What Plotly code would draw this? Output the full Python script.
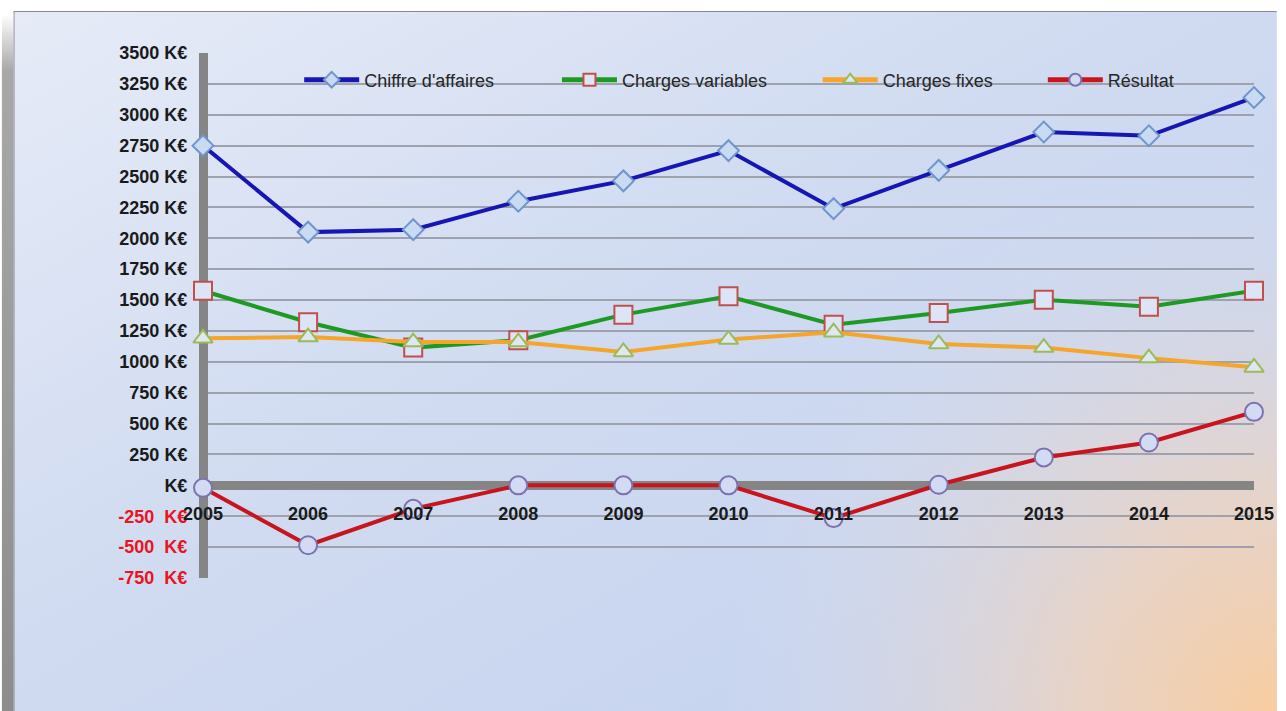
import base64
import plotly.graph_objects as go

years = [2005, 2006, 2007, 2008, 2009, 2010, 2011, 2012, 2013, 2014, 2015]
chiffre_affaires = [2750, 2050, 2070, 2300, 2465, 2710, 2240, 2550, 2860, 2830, 3140]
charges_variables = [1575, 1320, 1115, 1175, 1382, 1530, 1300, 1395, 1503, 1445, 1576]
charges_fixes = [1190, 1200, 1160, 1160, 1080, 1180, 1240, 1145, 1115, 1030, 955]
resultat = [-20, -485, -190, 0, 0, 0, -265, 5, 226, 347, 595]

series_names = ["Chiffre d'affaires", "Charges variables", "Charges fixes", "Résultat"]
y_ticks = list(range(-750, 3501, 250))


def tick_label(v):
    if v == 0:
        return "K€"
    if v < 0:
        return "<span style='color:#e8141e'>%d\u00a0\u00a0K€</span>" % v
    return "%d K€" % v


W, H = 1286, 711
L, R, T, B = 203, 23, 53, 133
PW, PH = W - L - R, H - T - B
AXW = 9

svg = f"""<svg xmlns='http://www.w3.org/2000/svg' width='{W}' height='{H}' viewBox='0 0 {W} {H}' preserveAspectRatio='none'>
<defs>
<linearGradient id='bg' x1='0' y1='0' x2='1' y2='1'>
<stop offset='0' stop-color='#e6ebf7'/>
<stop offset='0.45' stop-color='#d0dbf1'/>
<stop offset='1' stop-color='#c3d1ee'/>
</linearGradient>
<radialGradient id='or' gradientUnits='userSpaceOnUse' cx='{W}' cy='{H}' r='560'>
<stop offset='0' stop-color='#f8cda0' stop-opacity='1'/>
<stop offset='0.35' stop-color='#eed3bf' stop-opacity='0.85'/>
<stop offset='1' stop-color='#d6dcef' stop-opacity='0'/>
</radialGradient>
<linearGradient id='sh' x1='0' y1='0' x2='0' y2='1'>
<stop offset='0' stop-color='#ffffff'/>
<stop offset='0.08' stop-color='#a8a8a8'/>
<stop offset='1' stop-color='#8c8c8c'/>
</linearGradient>
</defs>
<rect x='0' y='0' width='{W}' height='{H}' fill='#ffffff'/>
<rect x='0' y='14' width='13' height='{H}' fill='url(#sh)'/>
<rect x='12' y='11' width='{W}' height='{H}' fill='url(#bg)'/>
<rect x='12' y='11' width='{W}' height='{H}' fill='url(#or)'/>
<line x1='12' y1='11.5' x2='{W}' y2='11.5' stroke='#8a8a8a' stroke-width='1.2'/>
<line x1='12.5' y1='11' x2='12.5' y2='{H}' stroke='#9a9a9a' stroke-width='1'/>
</svg>"""
img_src = "data:image/svg+xml;base64," + base64.b64encode(svg.encode("utf-8")).decode("ascii")

font_main = "Liberation Sans, Arial, sans-serif"

styles = [
    dict(color="#1616b4", symbol="diamond", size=16, fill="#c8dbf3", edge="#6f95cc"),
    dict(color="#1e9a24", symbol="square", size=18, fill="#dde4f5", edge="#c0504d"),
    dict(color="#f5a52a", symbol="triangle-up", size=17, fill="#dfe8f2", edge="#9bbb59"),
    dict(color="#c8141c", symbol="circle", size=18, fill="#d3dbf4", edge="#7d72b0"),
]
data_series = [chiffre_affaires, charges_variables, charges_fixes, resultat]
legend_ids = ["legend", "legend2", "legend3", "legend4"]
legend_x_px = [300, 560, 823, 1050]

fig = go.Figure()
for name, vals, st, lg in zip(series_names, data_series, styles, legend_ids):
    fig.add_trace(go.Scatter(
        x=years, y=vals, name=name, mode="lines+markers",
        line=dict(color=st["color"], width=4),
        marker=dict(symbol=st["symbol"], size=st["size"], color=st["fill"],
                    line=dict(color=st["edge"], width=2)),
        cliponaxis=False, legend=lg,
    ))

legend_common = dict(
    orientation="h", bgcolor="rgba(0,0,0,0)", itemwidth=55, itemsizing="constant",
    font=dict(family=font_main, size=18, color="#262626"),
    yanchor="middle", y=1 - (80 - T) / PH, xanchor="left",
)
layout_legends = {}
for lg, xp in zip(legend_ids, legend_x_px):
    layout_legends[lg] = dict(legend_common, x=(xp - L) / PW)

fig.update_layout(
    width=W, height=H,
    margin=dict(l=L, r=R, t=T, b=B),
    paper_bgcolor="#ffffff",
    plot_bgcolor="rgba(0,0,0,0)",
    showlegend=True,
    images=[dict(source=img_src, xref="paper", yref="paper",
                 x=-L / PW, y=1 + T / PH, sizex=W / PW, sizey=H / PH,
                 xanchor="left", yanchor="top", sizing="stretch", layer="below")],
    xaxis=dict(
        range=[2005, 2015], tickvals=years, ticktext=[str(y) for y in years],
        showgrid=False, zeroline=False, showline=False, ticks="",
        anchor="free", position=750 / 4250, ticklabelstandoff=16,
        ticklabeloverflow="allow",
        tickfont=dict(family=font_main, size=18, color="#1a1a1a", weight="bold"),
    ),
    yaxis=dict(
        range=[-750, 3500], tickvals=y_ticks, ticktext=[tick_label(v) for v in y_ticks],
        showgrid=True, gridcolor="#9da2ae", gridwidth=1.6,
        zeroline=True, zerolinecolor="#858585", zerolinewidth=9,
        showline=True, linecolor="#858585", linewidth=AXW, ticks="",
        anchor="free", position=0, layer="below traces",
        ticklabelstandoff=8, ticklabeloverflow="allow",
        tickfont=dict(family=font_main, size=18, color="#1a1a1a", weight="bold"),
    ),
    **layout_legends,
)

fig.write_html(
    "out.html",
    config={"displayModeBar": False},
    post_script="document.body.style.margin='0';document.documentElement.style.overflow='hidden';document.body.style.overflow='hidden';",
)
